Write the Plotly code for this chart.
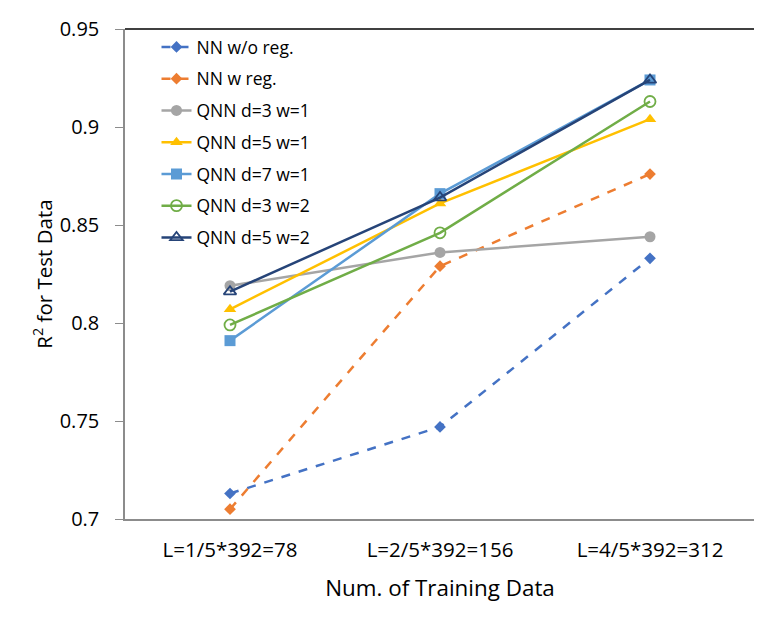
import plotly.graph_objects as go

categories = ["L=1/5*392=78", "L=2/5*392=156", "L=4/5*392=312"]
names = ["NN w/o reg.", "NN w reg.", "QNN d=3 w=1", "QNN d=5 w=1",
         "QNN d=7 w=1", "QNN d=3 w=2", "QNN d=5 w=2"]
nn_wo_reg = [0.713, 0.747, 0.833]
nn_w_reg = [0.705, 0.829, 0.876]
qnn_d3_w1 = [0.819, 0.836, 0.844]
qnn_d5_w1 = [0.807, 0.861, 0.904]
qnn_d7_w1 = [0.791, 0.866, 0.924]
qnn_d3_w2 = [0.799, 0.846, 0.913]
qnn_d5_w2 = [0.816, 0.864, 0.924]

series = [nn_wo_reg, nn_w_reg, qnn_d3_w1, qnn_d5_w1, qnn_d7_w1, qnn_d3_w2, qnn_d5_w2]
colors = ["#4472C4", "#ED7D31", "#A5A5A5", "#FFC000", "#5B9BD5", "#70AD47", "#264478"]
symbols = ["diamond", "diamond", "circle", "triangle-up", "square", "circle-open", "triangle-up-open"]
sizes = [9, 9, 11, 11, 11, 11, 11]
dashes = ["dash", "dash", "solid", "solid", "solid", "solid", "solid"]

fig = go.Figure()
for i, (name, vals, c, s, sz, d) in enumerate(zip(names, series, colors, symbols, sizes, dashes)):
    fig.add_trace(go.Scatter(
        x=categories, y=vals, name=name, mode="lines+markers", legendgroup=f"g{i}",
        line=dict(color=c, width=2.5, dash=d),
        marker=dict(symbol=s, size=sz, color=c, line=dict(color=c, width=1.8 if "open" in s else 0)),
    ))

FONT = "Open Sans"
fig.update_layout(
    width=754, height=631,
    margin=dict(l=117, r=7, t=19, b=120),
    paper_bgcolor="white", plot_bgcolor="white",
    font=dict(family=FONT, color="black"),
    showlegend=True,
    legend=dict(x=0.05, y=1.0, xanchor="left", yanchor="top",
                traceorder="grouped", tracegroupgap=6,
                font=dict(size=17.5, family=FONT, color="black"),
                bgcolor="rgba(0,0,0,0)", borderwidth=0),
    xaxis=dict(
        type="category", range=[-0.5, 2.5],
        showgrid=False, showline=True, linecolor="#8c8c8c", linewidth=1.5,
        mirror=False, ticks="", tickfont=dict(size=20.5), ticklabelstandoff=12,
        title=dict(text="Num. of Training Data", font=dict(size=22.4), standoff=18),
    ),
    yaxis=dict(
        range=[0.7, 0.95], dtick=0.05, tickformat="~r",
        showgrid=False, showline=True, linecolor="#8c8c8c", linewidth=1.5,
        ticks="outside", ticklen=8, tickcolor="#8c8c8c", tickwidth=1.2,
        tickfont=dict(size=20), ticklabelstandoff=12, zeroline=False,
        title=dict(text="R<sup>2</sup> for Test Data", font=dict(size=20.5), standoff=2),
    ),
    shapes=[
        dict(type="line", xref="paper", yref="paper", x0=0, x1=1, y0=1, y1=1,
             line=dict(color="black", width=1.5)),
        dict(type="line", xref="paper", yref="paper", x0=1, x1=1, y0=0, y1=1,
             line=dict(color="#8c8c8c", width=2)),
    ],
)

fig.write_html("out.html")
